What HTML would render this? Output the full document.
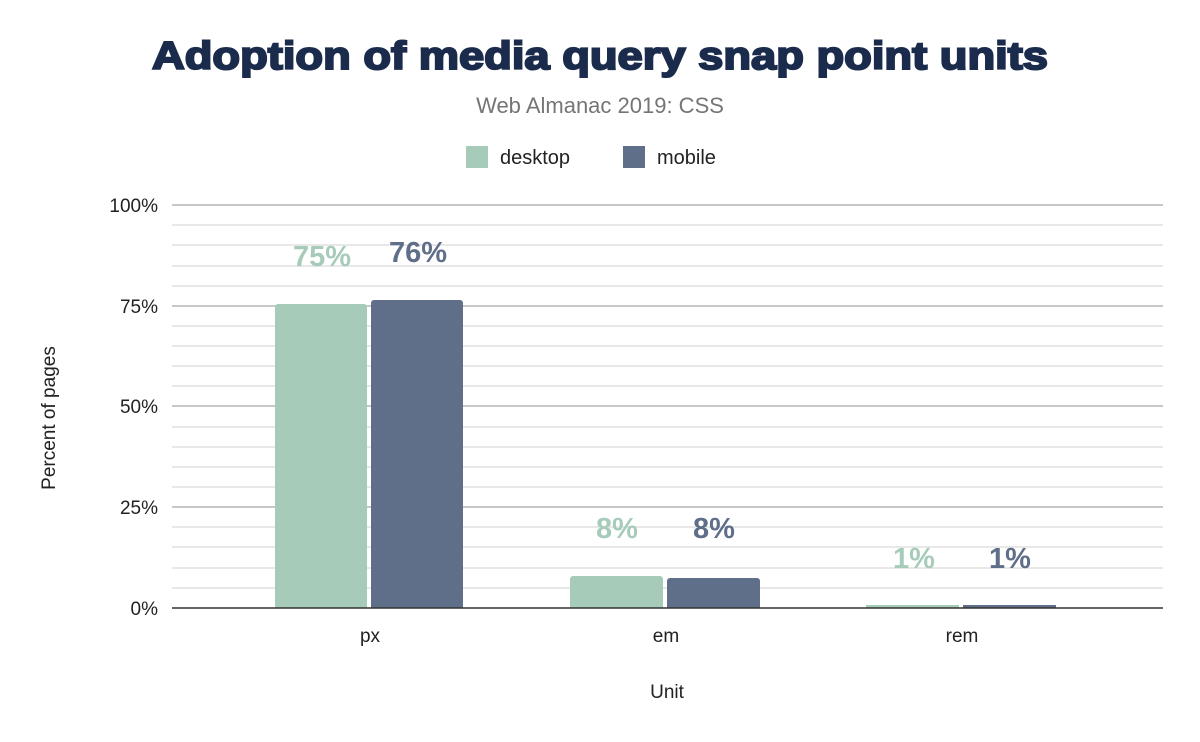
<!DOCTYPE html>
<html><head><style>
body{margin:0;background:#fff;}
svg{display:block;font-family:"Liberation Sans",sans-serif;}
</style></head><body>
<svg width="1200" height="742" xmlns="http://www.w3.org/2000/svg">
<rect width="1200" height="742" fill="#fff"/>
<text x="152" y="69" textLength="896" lengthAdjust="spacingAndGlyphs" font-size="39" font-weight="900" fill="#1a2b4c" stroke="#1a2b4c" stroke-width="2">Adoption of media query snap point units</text>
<text x="600" y="113" text-anchor="middle" font-size="22" fill="#757575">Web Almanac 2019: CSS</text>
<rect x="466" y="146" width="22" height="22" fill="#a6cbb9"/>
<text x="500" y="164" font-size="20" fill="#222">desktop</text>
<rect x="623" y="146" width="22" height="22" fill="#5f6e89"/>
<text x="657" y="164" font-size="20" fill="#222">mobile</text>
<g stroke="#e0e0e0" stroke-width="1.5">
<line x1="172" x2="1163" y1="225" y2="225"/><line x1="172" x2="1163" y1="245" y2="245"/><line x1="172" x2="1163" y1="266" y2="266"/><line x1="172" x2="1163" y1="286" y2="286"/>
<line x1="172" x2="1163" y1="326" y2="326"/><line x1="172" x2="1163" y1="346" y2="346"/><line x1="172" x2="1163" y1="366" y2="366"/><line x1="172" x2="1163" y1="386" y2="386"/>
<line x1="172" x2="1163" y1="427" y2="427"/><line x1="172" x2="1163" y1="447" y2="447"/><line x1="172" x2="1163" y1="467" y2="467"/><line x1="172" x2="1163" y1="487" y2="487"/>
<line x1="172" x2="1163" y1="527" y2="527"/><line x1="172" x2="1163" y1="547" y2="547"/><line x1="172" x2="1163" y1="568" y2="568"/><line x1="172" x2="1163" y1="588" y2="588"/>
</g>
<g stroke="#c8c8c8" stroke-width="2">
<line x1="172" x2="1163" y1="205" y2="205"/><line x1="172" x2="1163" y1="306" y2="306"/><line x1="172" x2="1163" y1="406" y2="406"/><line x1="172" x2="1163" y1="507" y2="507"/>
</g>
<g font-size="19" fill="#222" text-anchor="end">
<text x="158" y="212">100%</text><text x="158" y="313">75%</text><text x="158" y="413">50%</text><text x="158" y="514">25%</text><text x="158" y="615">0%</text>
</g>
<text transform="translate(55,418) rotate(-90)" text-anchor="middle" font-size="19" fill="#222">Percent of pages</text>
<path d="M275,608V307a3,3 0 0 1 3,-3H364a3,3 0 0 1 3,3V608Z" fill="#a6cbb9"/>
<path d="M371,608V303a3,3 0 0 1 3,-3H460a3,3 0 0 1 3,3V608Z" fill="#5f6e89"/>
<path d="M570,608V579a3,3 0 0 1 3,-3H660a3,3 0 0 1 3,3V608Z" fill="#a6cbb9"/>
<path d="M667,608V581a3,3 0 0 1 3,-3H757a3,3 0 0 1 3,3V608Z" fill="#5f6e89"/>
<rect x="866" y="605" width="93" height="3" fill="#a6cbb9"/>
<rect x="963" y="605" width="93" height="3" fill="#5f6e89"/>
<line x1="172" x2="1163" y1="608" y2="608" stroke="#333" stroke-width="1.5"/>
<g font-size="29" font-weight="bold" text-anchor="middle">
<text x="322" y="266" fill="#a6cbb9">75%</text><text x="418" y="262" fill="#5f6e89">76%</text>
<text x="617" y="538" fill="#a6cbb9">8%</text><text x="714" y="538" fill="#5f6e89">8%</text>
<text x="914" y="568" fill="#a6cbb9">1%</text><text x="1010" y="568" fill="#5f6e89">1%</text>
</g>
<g font-size="19" fill="#222" text-anchor="middle">
<text x="370" y="642">px</text><text x="666" y="642">em</text><text x="962" y="642">rem</text>
<text x="667" y="698">Unit</text>
</g>
</svg>
</body></html>
